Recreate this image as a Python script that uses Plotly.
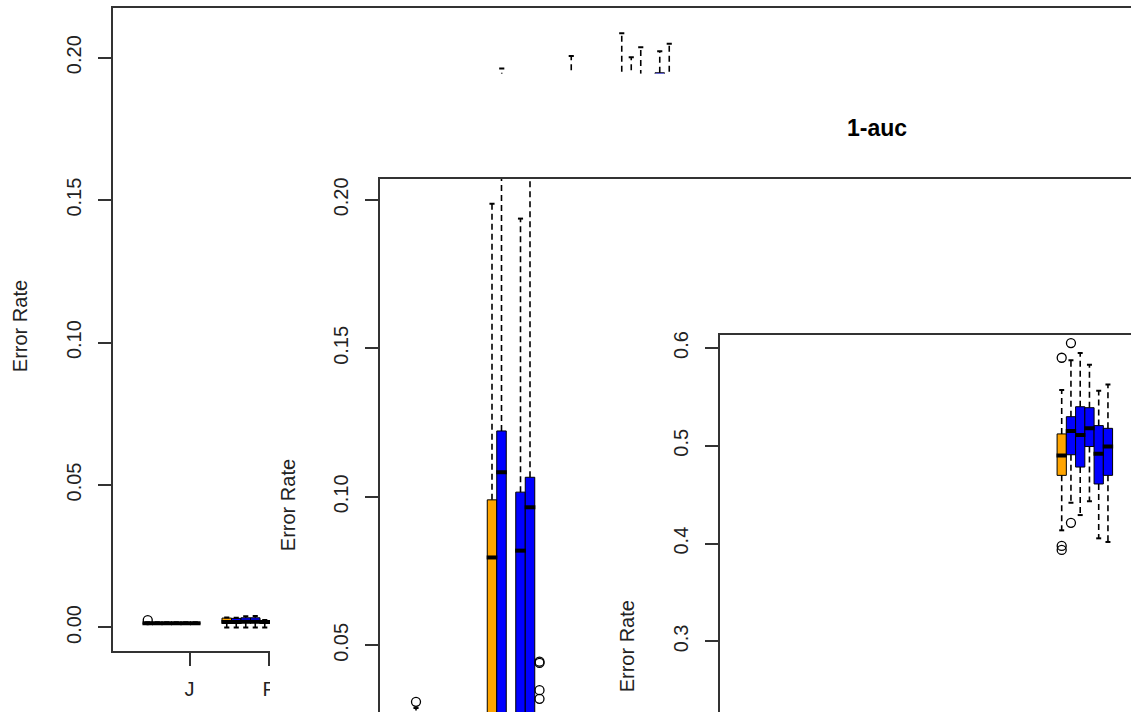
import plotly.graph_objects as go

W, H = 1131, 712
ORANGE, BLUE = "#FFA500", "#0000FF"
METHOD_COLORS = [ORANGE, BLUE, BLUE, BLUE, BLUE, BLUE]

# ---------------- Panel 1 (back) ----------------
P1_DATASETS = ["J", "F"]
P1_GROUP  = [0, 0, 0, 0, 0, 0, 1, 1, 1, 1, 1, 4, 5, 6, 6, 6, 6, 6]
P1_METHOD = [0, 1, 2, 3, 4, 5, 0, 1, 2, 3, 4, 4, 3, 0, 1, 2, 4, 5]
P1_LOW  = [0.0012, 0.0012, 0.0012, 0.0012, 0.0012, 0.0012,
           0.0000, 0.0000, 0.0000, 0.0000, 0.0000,
           0.030, 0.040, 0.050, 0.040, 0.050, 0.045, 0.050]
P1_Q1   = [0.0013, 0.0013, 0.0013, 0.0013, 0.0013, 0.0013,
           0.0016, 0.0016, 0.0017, 0.0017, 0.0015,
           0.080, 0.090, 0.100, 0.090, 0.095, 0.110, 0.100]
P1_MED  = [0.0015, 0.0015, 0.0015, 0.0015, 0.0015, 0.0015,
           0.0019, 0.0019, 0.0020, 0.0020, 0.0019,
           0.110, 0.120, 0.130, 0.120, 0.125, 0.150, 0.130]
P1_Q3   = [0.0017, 0.0017, 0.0017, 0.0017, 0.0017, 0.0017,
           0.0033, 0.0032, 0.0034, 0.0034, 0.0022,
           0.140, 0.150, 0.160, 0.150, 0.155, 0.1947, 0.160]
P1_HIGH = [0.0018, 0.0018, 0.0018, 0.0018, 0.0018, 0.0018,
           0.0035, 0.0034, 0.0039, 0.0040, 0.0026,
           0.1962, 0.2006, 0.2086, 0.2002, 0.2037, 0.2023, 0.2049]
P1_OUT_GROUP  = [0]
P1_OUT_METHOD = [0]
P1_OUT_VALUE  = [0.0026]
P1_YTICKS = [0.00, 0.05, 0.10, 0.15, 0.20]

# ---------------- Panel 2 (middle) ----------------
P2_TITLE = "1-auc"
P2_GROUP  = [0, 1, 1, 1, 1, 1, 1]
P2_METHOD = [0, 0, 1, 2, 3, 4, 5]
P2_LOW  = [0.0020, 0.0100, 0.0120, 0.0000, 0.0080, 0.0100, 0.0000]
P2_Q1   = [0.0080, 0.0240, 0.0260, 0.0050, 0.0210, 0.0230, 0.0060]
P2_MED  = [0.0120, 0.0796, 0.1083, 0.0080, 0.0819, 0.0965, 0.0100]
P2_Q3   = [0.0180, 0.0990, 0.1222, 0.0120, 0.1016, 0.1066, 0.0140]
P2_HIGH = [0.0289, 0.1987, 0.2400, 0.0240, 0.1937, 0.2500, 0.0220]
P2_OUT_GROUP  = [0, 1, 1, 1, 1]
P2_OUT_METHOD = [0, 5, 5, 5, 5]
P2_OUT_VALUE  = [0.0310, 0.0445, 0.0441, 0.0349, 0.0320]
P2_YTICKS = [0.05, 0.10, 0.15, 0.20]

# ---------------- Panel 3 (front) ----------------
P3_GROUP  = [0, 0, 0, 0, 0, 0]
P3_METHOD = [0, 1, 2, 3, 4, 5]
P3_LOW  = [0.4136, 0.4417, 0.4292, 0.4434, 0.4054, 0.4017]
P3_Q1   = [0.4698, 0.4909, 0.4783, 0.4993, 0.4610, 0.4698]
P3_MED  = [0.4902, 0.5153, 0.5112, 0.5179, 0.4919, 0.4993]
P3_Q3   = [0.5122, 0.5298, 0.5400, 0.5390, 0.5207, 0.5179]
P3_HIGH = [0.5570, 0.5875, 0.5949, 0.5830, 0.5563, 0.5627]
P3_OUT_GROUP  = [0, 0, 0, 0, 0]
P3_OUT_METHOD = [0, 0, 0, 1, 1]
P3_OUT_VALUE  = [0.5901, 0.3976, 0.3936, 0.6051, 0.4213]
P3_YTICKS = [0.3, 0.4, 0.5, 0.6]

Y_LABEL = "Error Rate"

# ---------------- layout calibration (pixels) ----------------
FONT = "Liberation Sans, Arial, sans-serif"
LINE_COL = "#333333"
BOXW = 1.0
CAPW = 0.27
MEDW = 0.56

PANELS = [
    dict(left=113, top=4, bottom=651, x0=147.75, ppu=9.5, gstep=79 / 9.5,
         v1=0.00, py1=627, v2=0.20, py2=54),
    dict(left=380, top=176, bottom=H, x0=416.0, ppu=9.5, gstep=8.0,
         v1=0.05, py1=645, v2=0.20, py2=197),
    dict(left=720, top=333, bottom=H, x0=1061.7, ppu=9.25, gstep=8.0,
         v1=0.30, py1=641, v2=0.60, py2=346),
]


def xrange_of(p):
    return [(p["left"] - p["x0"]) / p["ppu"], (W - p["x0"]) / p["ppu"]]


def yrange_of(p):
    slope = (p["v2"] - p["v1"]) / (p["py2"] - p["py1"])
    return [p["v1"] + (p["bottom"] - p["py1"]) * slope,
            p["v1"] + (p["top"] - p["py1"]) * slope]


def xdom(p):
    return [p["left"] / W, 1.0]


def ydom(p):
    return [1 - p["bottom"] / H, 1 - p["top"] / H]


fig = go.Figure()


def add_panel(xa, ya, gstep, groups, methods, low, q1, med, q3, high, og, om, ov):
    pos = [g * gstep + m for g, m in zip(groups, methods)]
    wx, wy, cx, cy, mx, my = [], [], [], [], [], []
    for p, lo_, a, md, b, hi_ in zip(pos, low, q1, med, q3, high):
        wx += [p, p, None, p, p, None]
        wy += [b, hi_, None, a, lo_, None]
        cx += [p - CAPW, p + CAPW, None, p - CAPW, p + CAPW, None]
        cy += [hi_, hi_, None, lo_, lo_, None]
        mx += [p - MEDW, p + MEDW, None]
        my += [md, md, None]
    common = dict(xaxis=xa, yaxis=ya, showlegend=False, hoverinfo="skip")
    fig.add_trace(go.Bar(x=pos, y=[b - a for a, b in zip(q1, q3)], base=q1, width=BOXW,
                         marker=dict(color=[METHOD_COLORS[m] for m in methods],
                                     line=dict(color="black", width=1)), **common))
    fig.add_trace(go.Scatter(x=wx, y=wy, mode="lines",
                             line=dict(color="black", width=1.6, dash="6px,4px"), **common))
    fig.add_trace(go.Scatter(x=cx, y=cy, mode="lines",
                             line=dict(color="black", width=2), **common))
    fig.add_trace(go.Scatter(x=mx, y=my, mode="lines",
                             line=dict(color="black", width=4), **common))
    fig.add_trace(go.Scatter(x=[g * gstep + m for g, m in zip(og, om)], y=ov, mode="markers",
                             marker=dict(symbol="circle-open", size=9, color="black",
                                         line=dict(width=1.3)), **common))


def occluder(xa, ya):
    fig.add_trace(go.Scatter(x=[None], y=[None], mode="markers", xaxis=xa, yaxis=ya,
                             showlegend=False, hoverinfo="skip"))


# subplot order = drawing order (back to front)
add_panel("x", "y", PANELS[0]["gstep"], P1_GROUP, P1_METHOD, P1_LOW, P1_Q1, P1_MED, P1_Q3,
          P1_HIGH, P1_OUT_GROUP, P1_OUT_METHOD, P1_OUT_VALUE)
occluder("x2", "y2")
add_panel("x3", "y3", PANELS[1]["gstep"], P2_GROUP, P2_METHOD, P2_LOW, P2_Q1, P2_MED, P2_Q3,
          P2_HIGH, P2_OUT_GROUP, P2_OUT_METHOD, P2_OUT_VALUE)
occluder("x4", "y4")
add_panel("x5", "y5", PANELS[2]["gstep"], P3_GROUP, P3_METHOD, P3_LOW, P3_Q1, P3_MED, P3_Q3,
          P3_HIGH, P3_OUT_GROUP, P3_OUT_METHOD, P3_OUT_VALUE)

tickfont = dict(family=FONT, size=20, color="#222222")
hidden = dict(showline=False, showgrid=False, zeroline=False, showticklabels=False,
              ticks="", range=[0, 1], fixedrange=True)


def yaxis_cfg(p, ticks, fmt, anchor):
    return dict(domain=ydom(p), range=yrange_of(p), anchor=anchor, showline=True,
                mirror=False, linecolor=LINE_COL, linewidth=2, ticks="outside",
                ticklen=13, tickwidth=2, tickcolor=LINE_COL, tickvals=ticks,
                ticktext=[fmt.format(t) for t in ticks], tickangle=-90,
                ticklabelstandoff=9,
                tickfont=tickfont, showgrid=False, zeroline=False, fixedrange=True)


p1, p2, p3 = PANELS
fig.update_layout(
    width=W, height=H, autosize=False,
    margin=dict(l=0, r=0, t=0, b=0, pad=0),
    paper_bgcolor="white", plot_bgcolor="white",
    barmode="overlay", hovermode=False,
    xaxis=dict(domain=xdom(p1), range=xrange_of(p1), anchor="y", showline=True, mirror=True,
               linecolor=LINE_COL, linewidth=2, ticks="outside", ticklen=13, tickwidth=2,
               tickcolor=LINE_COL,
               tickvals=[g * p1["gstep"] + 4.4 for g in range(len(P1_DATASETS))],
               ticktext=P1_DATASETS, tickfont=tickfont, ticklabelstandoff=6,
               showgrid=False, zeroline=False, fixedrange=True),
    yaxis=yaxis_cfg(p1, P1_YTICKS, "{:.2f}", "x"),
    xaxis2=dict(domain=[270 / W, 1], anchor="y2", **hidden),
    yaxis2=dict(domain=[0, 1 - 70 / H], anchor="x2", **hidden),
    xaxis3=dict(domain=xdom(p2), range=xrange_of(p2), anchor="y3", side="top", showline=True,
                mirror=False, linecolor=LINE_COL, linewidth=2, ticks="", showticklabels=False,
                showgrid=False, zeroline=False, fixedrange=True),
    yaxis3=yaxis_cfg(p2, P2_YTICKS, "{:.2f}", "x3"),
    xaxis4=dict(domain=[605 / W, 1], anchor="y4", **hidden),
    yaxis4=dict(domain=[0, 1 - 210 / H], anchor="x4", **hidden),
    xaxis5=dict(domain=xdom(p3), range=xrange_of(p3), anchor="y5", side="top", showline=True,
                mirror=False, linecolor=LINE_COL, linewidth=2, ticks="", showticklabels=False,
                showgrid=False, zeroline=False, fixedrange=True),
    yaxis5=yaxis_cfg(p3, P3_YTICKS, "{:.1f}", "x5"),
)

labfont = dict(family=FONT, size=20, color="#222222")
for cx, cy in [(20, 324), (288, 504), (627, 646)]:
    fig.add_annotation(x=cx / W, y=1 - cy / H, xref="paper", yref="paper", text=Y_LABEL,
                       textangle=-90, showarrow=False, font=labfont,
                       xanchor="center", yanchor="middle")
fig.add_annotation(x=877 / W, y=1 - 125 / H, xref="paper", yref="paper",
                   text="<b>" + P2_TITLE + "</b>", showarrow=False,
                   font=dict(family=FONT, size=23, color="black"),
                   xanchor="center", yanchor="middle")

PIN = ("var gd=document.getElementById('{plot_id}');"
       "document.documentElement.style.margin='0';document.body.style.margin='0';"
       "document.body.style.overflow='hidden';"
       "gd.style.position='fixed';gd.style.left='0px';gd.style.top='0px';")
fig.write_html("out.html", post_script=PIN, config={"displayModeBar": False})
